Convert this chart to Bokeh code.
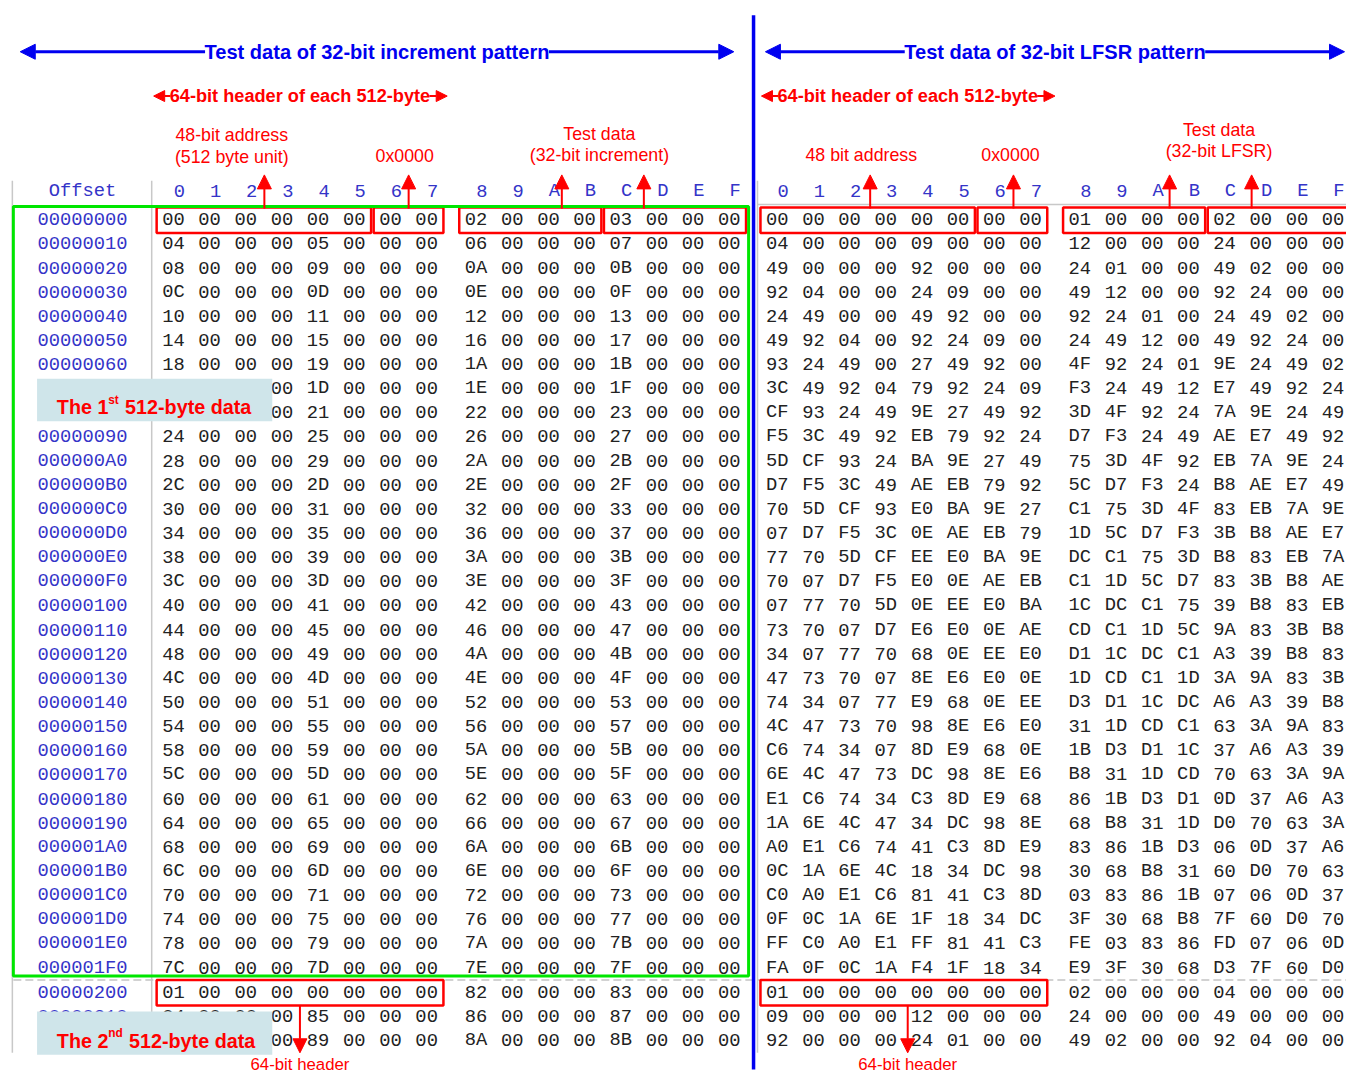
from bokeh.plotting import figure
from bokeh.models import Range1d, Arrow, NormalHead, ColumnDataSource
from bokeh.core.properties import value
from bokeh.embed import file_html
from bokeh.resources import INLINE

# ---------------- data ----------------
offsets = ["00000000", "00000010", "00000020", "00000030", "00000040", "00000050",
           "00000060", "00000070", "00000080", "00000090", "000000A0", "000000B0",
           "000000C0", "000000D0", "000000E0", "000000F0", "00000100", "00000110",
           "00000120", "00000130", "00000140", "00000150", "00000160", "00000170",
           "00000180", "00000190", "000001A0", "000001B0", "000001C0", "000001D0",
           "000001E0", "000001F0", "00000200", "00000210", "00000220"]

col_labels = ["0", "1", "2", "3", "4", "5", "6", "7",
              "8", "9", "A", "B", "C", "D", "E", "F"]

inc_rows = [
    "00 00 00 00 00 00 00 00 02 00 00 00 03 00 00 00",
    "04 00 00 00 05 00 00 00 06 00 00 00 07 00 00 00",
    "08 00 00 00 09 00 00 00 0A 00 00 00 0B 00 00 00",
    "0C 00 00 00 0D 00 00 00 0E 00 00 00 0F 00 00 00",
    "10 00 00 00 11 00 00 00 12 00 00 00 13 00 00 00",
    "14 00 00 00 15 00 00 00 16 00 00 00 17 00 00 00",
    "18 00 00 00 19 00 00 00 1A 00 00 00 1B 00 00 00",
    "1C 00 00 00 1D 00 00 00 1E 00 00 00 1F 00 00 00",
    "20 00 00 00 21 00 00 00 22 00 00 00 23 00 00 00",
    "24 00 00 00 25 00 00 00 26 00 00 00 27 00 00 00",
    "28 00 00 00 29 00 00 00 2A 00 00 00 2B 00 00 00",
    "2C 00 00 00 2D 00 00 00 2E 00 00 00 2F 00 00 00",
    "30 00 00 00 31 00 00 00 32 00 00 00 33 00 00 00",
    "34 00 00 00 35 00 00 00 36 00 00 00 37 00 00 00",
    "38 00 00 00 39 00 00 00 3A 00 00 00 3B 00 00 00",
    "3C 00 00 00 3D 00 00 00 3E 00 00 00 3F 00 00 00",
    "40 00 00 00 41 00 00 00 42 00 00 00 43 00 00 00",
    "44 00 00 00 45 00 00 00 46 00 00 00 47 00 00 00",
    "48 00 00 00 49 00 00 00 4A 00 00 00 4B 00 00 00",
    "4C 00 00 00 4D 00 00 00 4E 00 00 00 4F 00 00 00",
    "50 00 00 00 51 00 00 00 52 00 00 00 53 00 00 00",
    "54 00 00 00 55 00 00 00 56 00 00 00 57 00 00 00",
    "58 00 00 00 59 00 00 00 5A 00 00 00 5B 00 00 00",
    "5C 00 00 00 5D 00 00 00 5E 00 00 00 5F 00 00 00",
    "60 00 00 00 61 00 00 00 62 00 00 00 63 00 00 00",
    "64 00 00 00 65 00 00 00 66 00 00 00 67 00 00 00",
    "68 00 00 00 69 00 00 00 6A 00 00 00 6B 00 00 00",
    "6C 00 00 00 6D 00 00 00 6E 00 00 00 6F 00 00 00",
    "70 00 00 00 71 00 00 00 72 00 00 00 73 00 00 00",
    "74 00 00 00 75 00 00 00 76 00 00 00 77 00 00 00",
    "78 00 00 00 79 00 00 00 7A 00 00 00 7B 00 00 00",
    "7C 00 00 00 7D 00 00 00 7E 00 00 00 7F 00 00 00",
    "01 00 00 00 00 00 00 00 82 00 00 00 83 00 00 00",
    "84 00 00 00 85 00 00 00 86 00 00 00 87 00 00 00",
    "88 00 00 00 89 00 00 00 8A 00 00 00 8B 00 00 00",
]

lfsr_rows = [
    "00 00 00 00 00 00 00 00 01 00 00 00 02 00 00 00",
    "04 00 00 00 09 00 00 00 12 00 00 00 24 00 00 00",
    "49 00 00 00 92 00 00 00 24 01 00 00 49 02 00 00",
    "92 04 00 00 24 09 00 00 49 12 00 00 92 24 00 00",
    "24 49 00 00 49 92 00 00 92 24 01 00 24 49 02 00",
    "49 92 04 00 92 24 09 00 24 49 12 00 49 92 24 00",
    "93 24 49 00 27 49 92 00 4F 92 24 01 9E 24 49 02",
    "3C 49 92 04 79 92 24 09 F3 24 49 12 E7 49 92 24",
    "CF 93 24 49 9E 27 49 92 3D 4F 92 24 7A 9E 24 49",
    "F5 3C 49 92 EB 79 92 24 D7 F3 24 49 AE E7 49 92",
    "5D CF 93 24 BA 9E 27 49 75 3D 4F 92 EB 7A 9E 24",
    "D7 F5 3C 49 AE EB 79 92 5C D7 F3 24 B8 AE E7 49",
    "70 5D CF 93 E0 BA 9E 27 C1 75 3D 4F 83 EB 7A 9E",
    "07 D7 F5 3C 0E AE EB 79 1D 5C D7 F3 3B B8 AE E7",
    "77 70 5D CF EE E0 BA 9E DC C1 75 3D B8 83 EB 7A",
    "70 07 D7 F5 E0 0E AE EB C1 1D 5C D7 83 3B B8 AE",
    "07 77 70 5D 0E EE E0 BA 1C DC C1 75 39 B8 83 EB",
    "73 70 07 D7 E6 E0 0E AE CD C1 1D 5C 9A 83 3B B8",
    "34 07 77 70 68 0E EE E0 D1 1C DC C1 A3 39 B8 83",
    "47 73 70 07 8E E6 E0 0E 1D CD C1 1D 3A 9A 83 3B",
    "74 34 07 77 E9 68 0E EE D3 D1 1C DC A6 A3 39 B8",
    "4C 47 73 70 98 8E E6 E0 31 1D CD C1 63 3A 9A 83",
    "C6 74 34 07 8D E9 68 0E 1B D3 D1 1C 37 A6 A3 39",
    "6E 4C 47 73 DC 98 8E E6 B8 31 1D CD 70 63 3A 9A",
    "E1 C6 74 34 C3 8D E9 68 86 1B D3 D1 0D 37 A6 A3",
    "1A 6E 4C 47 34 DC 98 8E 68 B8 31 1D D0 70 63 3A",
    "A0 E1 C6 74 41 C3 8D E9 83 86 1B D3 06 0D 37 A6",
    "0C 1A 6E 4C 18 34 DC 98 30 68 B8 31 60 D0 70 63",
    "C0 A0 E1 C6 81 41 C3 8D 03 83 86 1B 07 06 0D 37",
    "0F 0C 1A 6E 1F 18 34 DC 3F 30 68 B8 7F 60 D0 70",
    "FF C0 A0 E1 FF 81 41 C3 FE 03 83 86 FD 07 06 0D",
    "FA 0F 0C 1A F4 1F 18 34 E9 3F 30 68 D3 7F 60 D0",
    "01 00 00 00 00 00 00 00 02 00 00 00 04 00 00 00",
    "09 00 00 00 12 00 00 00 24 00 00 00 49 00 00 00",
    "92 00 00 00 24 01 00 00 49 02 00 00 92 04 00 00",
]

# ---------------- layout constants ----------------
W, H = 1346, 1072
REF_W, REF_H = 1362, 1088
S = W / REF_W
ROW0_Y, ROW_DY = 222.0, 24.5
COL_DX, HALF_GAP = 36.6, 13.4
LEFT_BASE, RIGHT_BASE = 175.0, 786.0
HDR_Y, OFFSET_X = 193.0, 83.0
MONO = value("Liberation Mono")
SANS = value("Liberation Sans")
BLUE_TXT = "#3434c8"
RED = "#ff0000"
BLUE = "#0000f0"


def fs(px):
    return "%.2fpx" % (px * S)


def col_x(base, c):
    return base + c * COL_DX + (HALF_GAP if c >= 8 else 0.0)


def row_y(r):
    return ROW0_Y + r * ROW_DY


p = figure(width=W, height=H, x_range=Range1d(0, REF_W), y_range=Range1d(REF_H, 0),
           output_backend="svg", toolbar_location=None,
           x_axis_location=None, y_axis_location=None, min_border=0,
           outline_line_color=None, background_fill_color="white",
           border_fill_color="white")
p.grid.grid_line_color = None

# ---------- grey frame lines of the hex-editor views ----------
p.segment(x0=[12, 153, 766], y0=[183, 183, 183], x1=[12, 153, 766], y1=[1068, 1068, 1068],
          line_color="#c8c8c8", line_width=1.5)
p.segment(x0=[766], y0=[207], x1=[1362], y1=[207], line_color="#c8c8c8", line_width=1.5)
p.segment(x0=[13], y0=[994], x1=[1362], y1=[994], line_color="#c4c4c4",
          line_width=1.5, line_dash="8 4")

# ---------- header row ----------
p.text(x=[OFFSET_X], y=[HDR_Y], text=["Offset"], text_font=MONO, text_font_size=fs(19),
       text_color=BLUE_TXT, text_align="center", text_baseline="middle")
for base in (LEFT_BASE, RIGHT_BASE):
    p.text(x=[col_x(base, c) + 6 for c in range(16)], y=[HDR_Y] * 16, text=col_labels,
           text_font=MONO, text_font_size=fs(19), text_color=BLUE_TXT,
           text_align="center", text_baseline="middle")

# ---------- offsets ----------
p.text(x=[OFFSET_X] * len(offsets), y=[row_y(r) for r in range(len(offsets))], text=offsets,
       text_font=MONO, text_font_size=fs(19), text_color=BLUE_TXT,
       text_align="center", text_baseline="middle")

# ---------- byte cells ----------
for base, rows in ((LEFT_BASE, inc_rows), (RIGHT_BASE, lfsr_rows)):
    xs, ys, ts = [], [], []
    for r, line in enumerate(rows):
        for c, b in enumerate(line.split()):
            xs.append(col_x(base, c))
            ys.append(row_y(r))
            ts.append(b)
    src = ColumnDataSource(dict(x=xs, y=ys, t=ts))
    p.text(x="x", y="y", text="t", source=src, text_font=MONO, text_font_size=fs(19),
           text_color="#222222", text_align="center", text_baseline="middle")

# ---------- red boxes around header / first data words ----------
box_specs = [(LEFT_BASE, 0, 0, 5), (LEFT_BASE, 0, 6, 7), (LEFT_BASE, 0, 8, 11), (LEFT_BASE, 0, 12, 15),
             (RIGHT_BASE, 0, 0, 5), (RIGHT_BASE, 0, 6, 7), (RIGHT_BASE, 0, 8, 11), (RIGHT_BASE, 0, 12, 15.6),
             (LEFT_BASE, 32, 0, 7), (RIGHT_BASE, 32, 0, 7)]
p.quad(left=[col_x(b, c0) - 17 for b, r, c0, c1 in box_specs],
       right=[col_x(b, int(c1)) + 17 + (c1 - int(c1)) * 40 for b, r, c0, c1 in box_specs],
       top=[row_y(r) - 12 for b, r, c0, c1 in box_specs],
       bottom=[row_y(r) + 14 for b, r, c0, c1 in box_specs],
       fill_color=None, line_color=RED, line_width=2.5)

# ---------- green frame of the first 512 bytes ----------
p.quad(left=[13], right=[757], top=[209], bottom=[990], fill_color=None,
       line_color="#00e600", line_width=3)

# ---------- blue divider ----------
p.segment(x0=[762], y0=[15], x1=[762], y1=[1085], line_color=BLUE, line_width=3.5)


def arrow(x0, y0, x1, y1, color, lw, size):
    p.add_layout(Arrow(x_start=x0, y_start=y0, x_end=x1, y_end=y1, line_color=color,
                       line_width=lw, start=None,
                       end=NormalHead(size=size, fill_color=color, line_color=color)))


# ---------- top titles with double arrows ----------
titles = [("Test data of 32-bit increment pattern", 381, 20, 742, 174),
          ("Test data of 32-bit LFSR pattern", 1067, 774, 1360, 152)]
for txt, cx, xl, xr, half in titles:
    p.text(x=[cx], y=[52], text=[txt], text_font=SANS, text_font_style="bold",
           text_font_size=fs(20.3), text_color=BLUE, text_align="center", text_baseline="middle")
    arrow(cx - half, 52, xl, 52, BLUE, 3, 15)
    arrow(cx + half, 52, xr, 52, BLUE, 3, 15)

hdr_titles = [(303, 155, 452), (918, 770, 1067)]
for cx, xl, xr in hdr_titles:
    p.text(x=[cx], y=[97], text=["64-bit header of each 512-byte"], text_font=SANS,
           text_font_style="bold", text_font_size=fs(18.4), text_color=RED,
           text_align="center", text_baseline="middle")
    arrow(cx - 131, 97, xl, 97, RED, 2, 11)
    arrow(cx + 131, 97, xr, 97, RED, 2, 11)

# ---------- red labels ----------
lab_x = [234, 234, 409, 606, 606, 871, 1022, 1233, 1233]
lab_y = [137, 159, 158, 135, 157, 157, 157, 131, 153]
lab_t = ["48-bit address", "(512 byte unit)", "0x0000", "Test data", "(32-bit increment)",
         "48 bit address", "0x0000", "Test data", "(32-bit LFSR)"]
p.text(x=lab_x, y=lab_y, text=lab_t, text_font=SANS, text_font_size=fs(18),
       text_color=RED, text_align="center", text_baseline="middle")

for ax in (267, 413, 568, 651, 880, 1025, 1183, 1266):
    arrow(ax, 211, ax, 177, RED, 2, 14)
for ax in (303, 918):
    arrow(ax, 1020, ax, 1068, RED, 2, 14)
p.text(x=[303, 918], y=[1080, 1080], text=["64-bit header", "64-bit header"], text_font=SANS,
       text_font_size=fs(17), text_color=RED, text_align="center", text_baseline="middle")

# ---------- light blue call-out boxes ----------
p.quad(left=[37, 37], right=[275, 275], top=[384, 1026], bottom=[427, 1070],
       fill_color="#cfe5ea", line_color=None)
for base_y, nth, sup, sup_w in ((413, "The 1", "st", 11), (1056, "The 2", "nd", 15)):
    p.text(x=[57], y=[base_y], text=[nth], text_font=SANS, text_font_style="bold",
           text_font_size=fs(20), text_color=RED, text_align="left", text_baseline="alphabetic")
    p.text(x=[109], y=[base_y - 8], text=[sup], text_font=SANS, text_font_style="bold",
           text_font_size=fs(12), text_color=RED, text_align="left", text_baseline="alphabetic")
    p.text(x=[109 + sup_w + 6], y=[base_y], text=["512-byte data"], text_font=SANS,
           text_font_style="bold", text_font_size=fs(20), text_color=RED,
           text_align="left", text_baseline="alphabetic")

open("out.html", "w").write(file_html(p, INLINE))
